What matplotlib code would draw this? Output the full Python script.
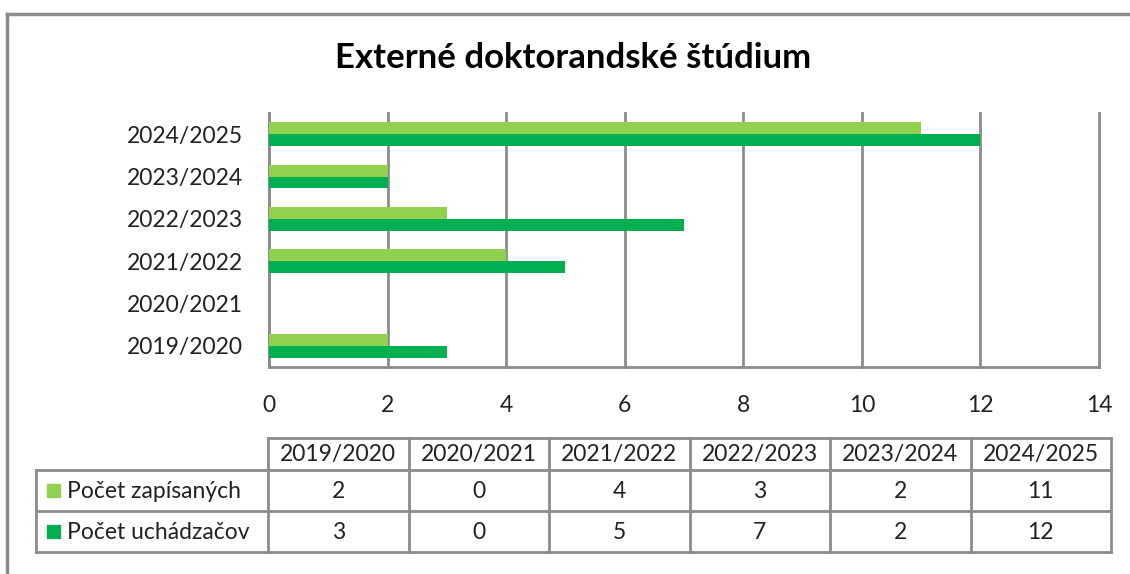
import matplotlib.pyplot as plt
from matplotlib.patches import Rectangle
import numpy as np

# data
years = ['2019/2020', '2020/2021', '2021/2022', '2022/2023', '2023/2024', '2024/2025']
zapisanych = [2, 0, 4, 3, 2, 11]
uchadzacov = [3, 0, 5, 7, 2, 12]
series_names = ['Počet zapísaných', 'Počet uchádzačov']
series_colors = ['#92D050', '#00B050']
title = 'Externé doktorandské štúdium'

plt.rcParams['font.family'] = ['Lato', 'DejaVu Sans']
grid_col = '#8c8c8c'
txt_col = '#222222'
fs = 16.5

W, H = 1130, 574
fig = plt.figure(figsize=(W / 100, H / 100), dpi=100)

# bar chart axes (pixel bounds: x 269..1099, y 113..367)
ax = fig.add_axes([269 / W, 1 - 367 / H, (1099 - 269) / W, (367 - 113) / H])
y = np.arange(len(years))
bh = 0.28
ax.barh(y + bh / 2, zapisanych, height=bh, color=series_colors[0], zorder=3)
ax.barh(y - bh / 2, uchadzacov, height=bh, color=series_colors[1], zorder=3)
ax.set_xlim(0, 14)
ax.set_ylim(-0.5, len(years) - 0.5)
ax.set_xticks(range(0, 15, 2))
ax.set_yticks(y)
ax.set_yticklabels(years)
ax.xaxis.grid(True, color=grid_col, linewidth=2, zorder=0)
for gl in ax.get_xgridlines():
    gl.set_clip_on(False)
for s in ['top', 'right']:
    ax.spines[s].set_visible(False)
for s in ['left', 'bottom']:
    ax.spines[s].set_color(grid_col)
    ax.spines[s].set_linewidth(2)
ax.tick_params(length=0, labelsize=fs, colors=txt_col)
ax.tick_params(axis='x', pad=20)
ax.tick_params(axis='y', pad=19)

fig.text(573 / W, 1 - 58 / H, title, ha='center', va='center',
         fontsize=25, fontweight='bold')

# data table drawn in pixel coordinates
tx = fig.add_axes([0, 0, 1, 1])
tx.set_xlim(0, W)
tx.set_ylim(H, 0)
tx.axis('off')

col_edges = np.linspace(268, 1111, len(years) + 1)
row_edges = [438, 470, 511, 552]
label_left = 36
lw = 2

# header row
tx.plot([col_edges[0], col_edges[-1]], [row_edges[0]] * 2, color=grid_col, lw=lw)
for i, yr in enumerate(years):
    tx.text((col_edges[i] + col_edges[i + 1]) / 2, (row_edges[0] + row_edges[1]) / 2 + 1,
            yr, ha='center', va='center', fontsize=fs, color=txt_col)
for r in range(1, 4):
    tx.plot([label_left, col_edges[-1]], [row_edges[r]] * 2, color=grid_col, lw=lw)
for xe in col_edges:
    tx.plot([xe, xe], [row_edges[0], row_edges[-1]], color=grid_col, lw=lw)
tx.plot([label_left, label_left], [row_edges[1], row_edges[-1]], color=grid_col, lw=lw)

for r, (name, vals, c) in enumerate(zip(series_names, [zapisanych, uchadzacov], series_colors)):
    yc = (row_edges[r + 1] + row_edges[r + 2]) / 2
    tx.add_patch(Rectangle((47, yc - 6.5), 13, 13, color=c))
    tx.text(67, yc + 1, name, ha='left', va='center', fontsize=fs, color=txt_col)
    for i, v in enumerate(vals):
        tx.text((col_edges[i] + col_edges[i + 1]) / 2, yc + 1, str(v),
                ha='center', va='center', fontsize=fs, color=txt_col)

# outer chart border (top and left visible)
tx.plot([7, W], [14, 14], color=grid_col, lw=2.5)
tx.plot([7, 7], [14, H], color=grid_col, lw=2.5)

fig.savefig('out.png', dpi=100)
